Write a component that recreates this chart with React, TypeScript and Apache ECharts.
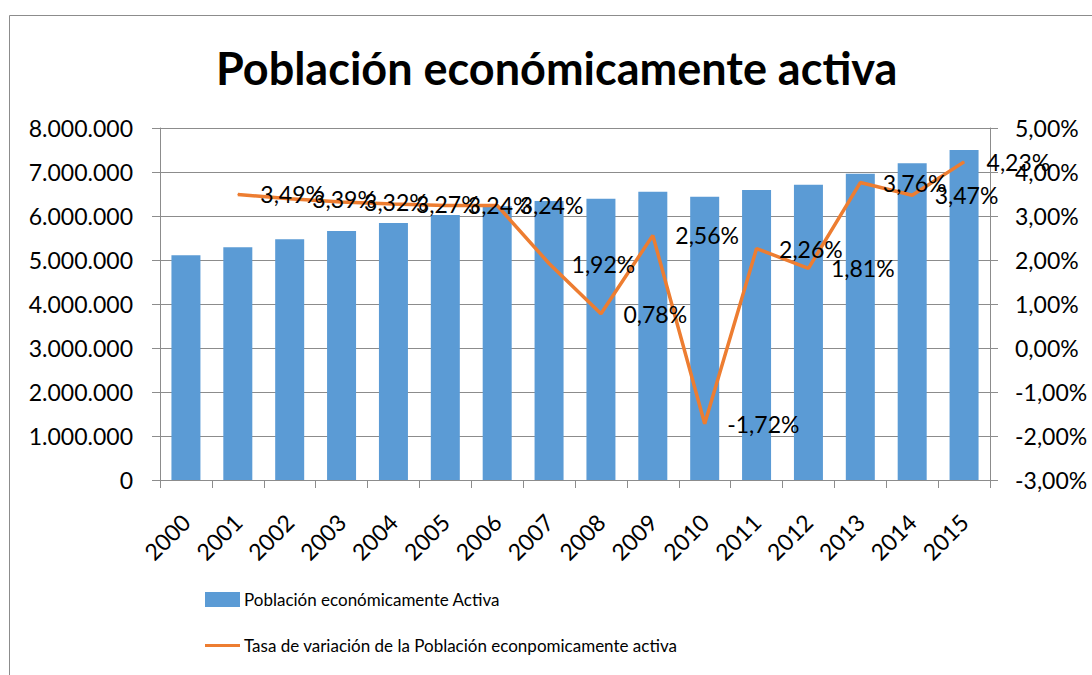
import React, { useEffect, useRef } from "react";
import * as echarts from "echarts";

const years = ["2000","2001","2002","2003","2004","2005","2006","2007","2008","2009","2010","2011","2012","2013","2014","2015"];
const poblacion = [5110000, 5290000, 5470000, 5660000, 5840000, 6020000, 6220000, 6340000, 6390000, 6550000, 6440000, 6590000, 6710000, 6960000, 7200000, 7500000];
const tasa = [null, 3.49, 3.39, 3.32, 3.27, 3.24, 3.24, 1.92, 0.78, 2.56, -1.72, 2.26, 1.81, 3.76, 3.47, 4.23];

const titleText = "Población económicamente activa";
const barName = "Población económicamente Activa";
const lineName = "Tasa de variación de la Población econpomicamente activa";

const FONT = "Lato, 'Open Sans', sans-serif";
const GRID = "#8c8c8c";

const thousands = (v: number) => String(Math.round(v)).replace(/\B(?=(\d{3})+(?!\d))/g, ".");
const pct = (v: number) => v.toFixed(2).replace(".", ",") + "%";

export default function App() {
  const ref = useRef<HTMLDivElement>(null);
  useEffect(() => {
    if (!ref.current) return;
    const chart = echarts.init(ref.current, undefined, { renderer: "svg" });
    chart.setOption({
      animation: false,
      backgroundColor: "#ffffff",
      title: {
        text: titleText,
        left: 216,
        top: 45,
        padding: 0,
        textStyle: { fontFamily: FONT, fontWeight: "bold", fontSize: 45, color: "#000" },
      },
      graphic: [
        {
          type: "rect",
          shape: { x: 9.5, y: 15.5, width: 1200, height: 800 },
          style: { fill: "none", stroke: GRID, lineWidth: 1 },
          silent: true,
          z: -10,
        },
      ],
      legend: [
        {
          data: [{ name: barName, icon: "rect" }],
          orient: "vertical",
          left: 205,
          top: 591,
          padding: 0,
          itemWidth: 35,
          itemHeight: 15,
          itemGap: 5,
          textStyle: { fontFamily: FONT, fontSize: 17, color: "#000", padding: [0, 0, 0, -1] },
        },
        {
          data: [{ name: lineName, icon: "path://M0,0H35V3H0Z" }],
          orient: "vertical",
          left: 205,
          top: 637,
          padding: 0,
          itemWidth: 35,
          itemHeight: 3,
          textStyle: { fontFamily: FONT, fontSize: 17, color: "#000", padding: [0, 0, 0, -1] },
        },
      ],
      grid: { left: 160, right: 102, top: 128, bottom: 195 },
      xAxis: {
        type: "category",
        data: years,
        boundaryGap: true,
        axisLine: { show: true, lineStyle: { color: GRID, width: 1 } },
        axisTick: { show: true, length: 8, alignWithLabel: false, lineStyle: { color: GRID } },
        axisLabel: { rotate: 45, margin: 38, fontFamily: FONT, fontSize: 23, color: "#000", interval: 0 },
      },
      yAxis: [
        {
          type: "value",
          min: 0,
          max: 8000000,
          interval: 1000000,
          axisLine: { show: true, lineStyle: { color: GRID } },
          axisTick: { show: true, length: 8, lineStyle: { color: GRID } },
          splitLine: { show: true, lineStyle: { color: GRID, width: 1 } },
          axisLabel: { formatter: thousands, margin: 27, fontFamily: FONT, fontSize: 23, color: "#000" },
        },
        {
          type: "value",
          min: -3,
          max: 5,
          interval: 1,
          position: "right",
          axisLine: { show: true, lineStyle: { color: GRID } },
          axisTick: { show: true, length: 8, lineStyle: { color: GRID } },
          splitLine: { show: false },
          axisLabel: { formatter: pct, margin: 25, fontFamily: FONT, fontSize: 23, color: "#000" },
        },
      ],
      series: [
        {
          name: barName,
          type: "bar",
          data: poblacion,
          barWidth: 29,
          itemStyle: { color: "#5B9BD5" },
          yAxisIndex: 0,
        },
        {
          name: lineName,
          type: "line",
          data: tasa,
          yAxisIndex: 1,
          symbol: "circle",
          symbolSize: 1,
          showSymbol: true,
          itemStyle: { color: "#ED7D31" },
          lineStyle: { color: "#ED7D31", width: 3.5 },
          label: {
            show: true,
            position: "right",
            distance: 22,
            formatter: (p: any) => pct(p.value),
            fontFamily: FONT,
            fontSize: 23,
            color: "#000",
          },
          labelLayout: { hideOverlap: false },
          z: 3,
        },
      ],
    });
    return () => chart.dispose();
  }, []);
  return <div ref={ref} style={{ position: "absolute", left: 0, top: 0, width: 1092, height: 675 }} />;
}
